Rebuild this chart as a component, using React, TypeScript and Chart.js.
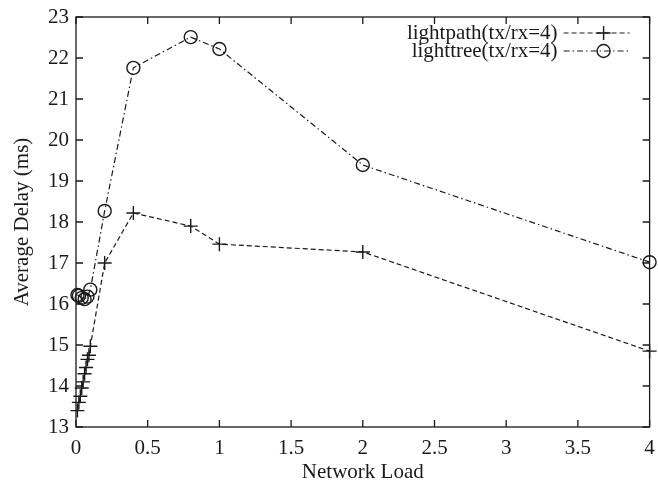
import React, { useEffect, useRef } from "react";
import { Chart, registerables } from "chart.js";

Chart.register(...registerables);

const lightpathX = [0.01, 0.02, 0.03, 0.04, 0.05, 0.06, 0.07, 0.08, 0.09, 0.1, 0.2, 0.4, 0.8, 1, 2, 4];
const lightpathY = [13.4, 13.6, 13.75, 13.95, 14.1, 14.3, 14.45, 14.65, 14.75, 14.97, 17.0, 18.22, 17.9, 17.46, 17.27, 14.85];
const lighttreeX = [0.01, 0.02, 0.04, 0.06, 0.08, 0.1, 0.2, 0.4, 0.8, 1, 2, 4];
const lighttreeY = [16.22, 16.2, 16.15, 16.12, 16.18, 16.35, 18.27, 21.76, 22.51, 22.22, 19.39, 17.02];
const seriesLabels = ["lightpath(tx/rx=4)", "lighttree(tx/rx=4)"];
const xTitle = "Network Load";
const yTitle = "Average Delay (ms)";

const FONT = "21px 'Liberation Serif', 'DejaVu Serif', serif";
const INK = "#1a1a1a";

const framePlugin = {
  id: "gnuFrame",
  afterDraw(chart: any) {
    const { ctx, chartArea: a, scales } = chart;
    const xs = scales.x;
    const ys = scales.y;
    ctx.save();
    ctx.strokeStyle = INK;
    ctx.lineWidth = 1.3;
    ctx.setLineDash([]);
    ctx.strokeRect(a.left, a.top, a.right - a.left, a.bottom - a.top);
    const tl = 7;
    ctx.beginPath();
    xs.ticks.forEach((t: any) => {
      const px = xs.getPixelForValue(t.value);
      ctx.moveTo(px, a.bottom);
      ctx.lineTo(px, a.bottom - tl);
      ctx.moveTo(px, a.top);
      ctx.lineTo(px, a.top + tl);
    });
    ys.ticks.forEach((t: any) => {
      const py = ys.getPixelForValue(t.value);
      ctx.moveTo(a.left, py);
      ctx.lineTo(a.left + tl, py);
      ctx.moveTo(a.right, py);
      ctx.lineTo(a.right - tl, py);
    });
    ctx.stroke();

    ctx.fillStyle = INK;
    ctx.font = FONT;
    ctx.textAlign = "center";
    ctx.textBaseline = "middle";
    xs.ticks.forEach((t: any) => {
      const px = xs.getPixelForValue(t.value);
      ctx.fillText(String(+t.value.toFixed(2)), px, a.bottom + 21);
    });
    ctx.textAlign = "right";
    ys.ticks.forEach((t: any) => {
      const py = ys.getPixelForValue(t.value);
      ctx.fillText(String(+t.value.toFixed(2)), a.left - 7, py);
    });
    ctx.textAlign = "center";
    ctx.fillText(xTitle, (a.left + a.right) / 2, a.bottom + 45);
    ctx.save();
    ctx.translate(22, (a.top + a.bottom) / 2);
    ctx.rotate(-Math.PI / 2);
    ctx.fillText(yTitle, 0, 0);
    ctx.restore();

    // legend
    const textRight = a.right - 92;
    const x0 = a.right - 86;
    const x1 = a.right - 20;
    const mx = a.right - 46;
    const rows = [a.top + 16, a.top + 34];
    chart.data.datasets.forEach((ds: any, i: number) => {
      const y = rows[i];
      ctx.textAlign = "right";
      ctx.fillStyle = INK;
      ctx.fillText(seriesLabels[i], textRight, y);
      ctx.strokeStyle = INK;
      ctx.lineWidth = 1.2;
      ctx.setLineDash(ds.borderDash);
      ctx.beginPath();
      ctx.moveTo(x0, y);
      ctx.lineTo(x1, y);
      ctx.stroke();
      ctx.setLineDash([]);
      ctx.lineWidth = 1.4;
      ctx.beginPath();
      if (i === 0) {
        ctx.moveTo(mx - 7, y);
        ctx.lineTo(mx + 7, y);
        ctx.moveTo(mx, y - 7);
        ctx.lineTo(mx, y + 7);
      } else {
        ctx.arc(mx, y, 6.5, 0, Math.PI * 2);
      }
      ctx.stroke();
    });
    ctx.restore();
  },
};

export default function App() {
  const ref = useRef<HTMLCanvasElement | null>(null);
  useEffect(() => {
    document.body.style.margin = "0";
    const canvas = ref.current!;
    const chart = new Chart(canvas, {
      type: "line",
      data: {
        datasets: [
          {
            label: seriesLabels[0],
            data: lightpathX.map((x, i) => ({ x, y: lightpathY[i] })),
            borderColor: INK,
            borderWidth: 1.2,
            borderDash: [5, 3],
            pointStyle: "cross",
            pointRadius: 7,
            pointBorderWidth: 1.4,
            pointBorderColor: INK,
            backgroundColor: "transparent",
            fill: false,
            tension: 0,
          },
          {
            label: seriesLabels[1],
            data: lighttreeX.map((x, i) => ({ x, y: lighttreeY[i] })),
            borderColor: INK,
            borderWidth: 1.2,
            borderDash: [6, 3, 1.5, 3],
            pointStyle: "circle",
            pointRadius: 6.5,
            pointBorderWidth: 1.4,
            pointBorderColor: INK,
            pointBackgroundColor: "transparent",
            backgroundColor: "transparent",
            fill: false,
            tension: 0,
          },
        ],
      },
      options: {
        animation: false,
        responsive: false,
        clip: false as any,
        layout: { padding: { left: 0, top: 17, right: 6, bottom: 0 } },
        plugins: { legend: { display: false }, tooltip: { enabled: false } },
        scales: {
          x: {
            type: "linear",
            min: 0,
            max: 4,
            ticks: { stepSize: 0.5, display: false },
            grid: { display: false },
            border: { display: false },
            afterFit: (s: any) => {
              s.height = 54;
            },
          },
          y: {
            type: "linear",
            min: 13,
            max: 23,
            ticks: { stepSize: 1, display: false },
            grid: { display: false },
            border: { display: false },
            afterFit: (s: any) => {
              s.width = 76;
            },
          },
        },
      },
      plugins: [framePlugin],
    });
    return () => chart.destroy();
  }, []);
  return (
    <div style={{ width: 658, height: 481 }}>
      <canvas ref={ref} width={658} height={481} style={{ width: 658, height: 481, display: "block" }} />
    </div>
  );
}
